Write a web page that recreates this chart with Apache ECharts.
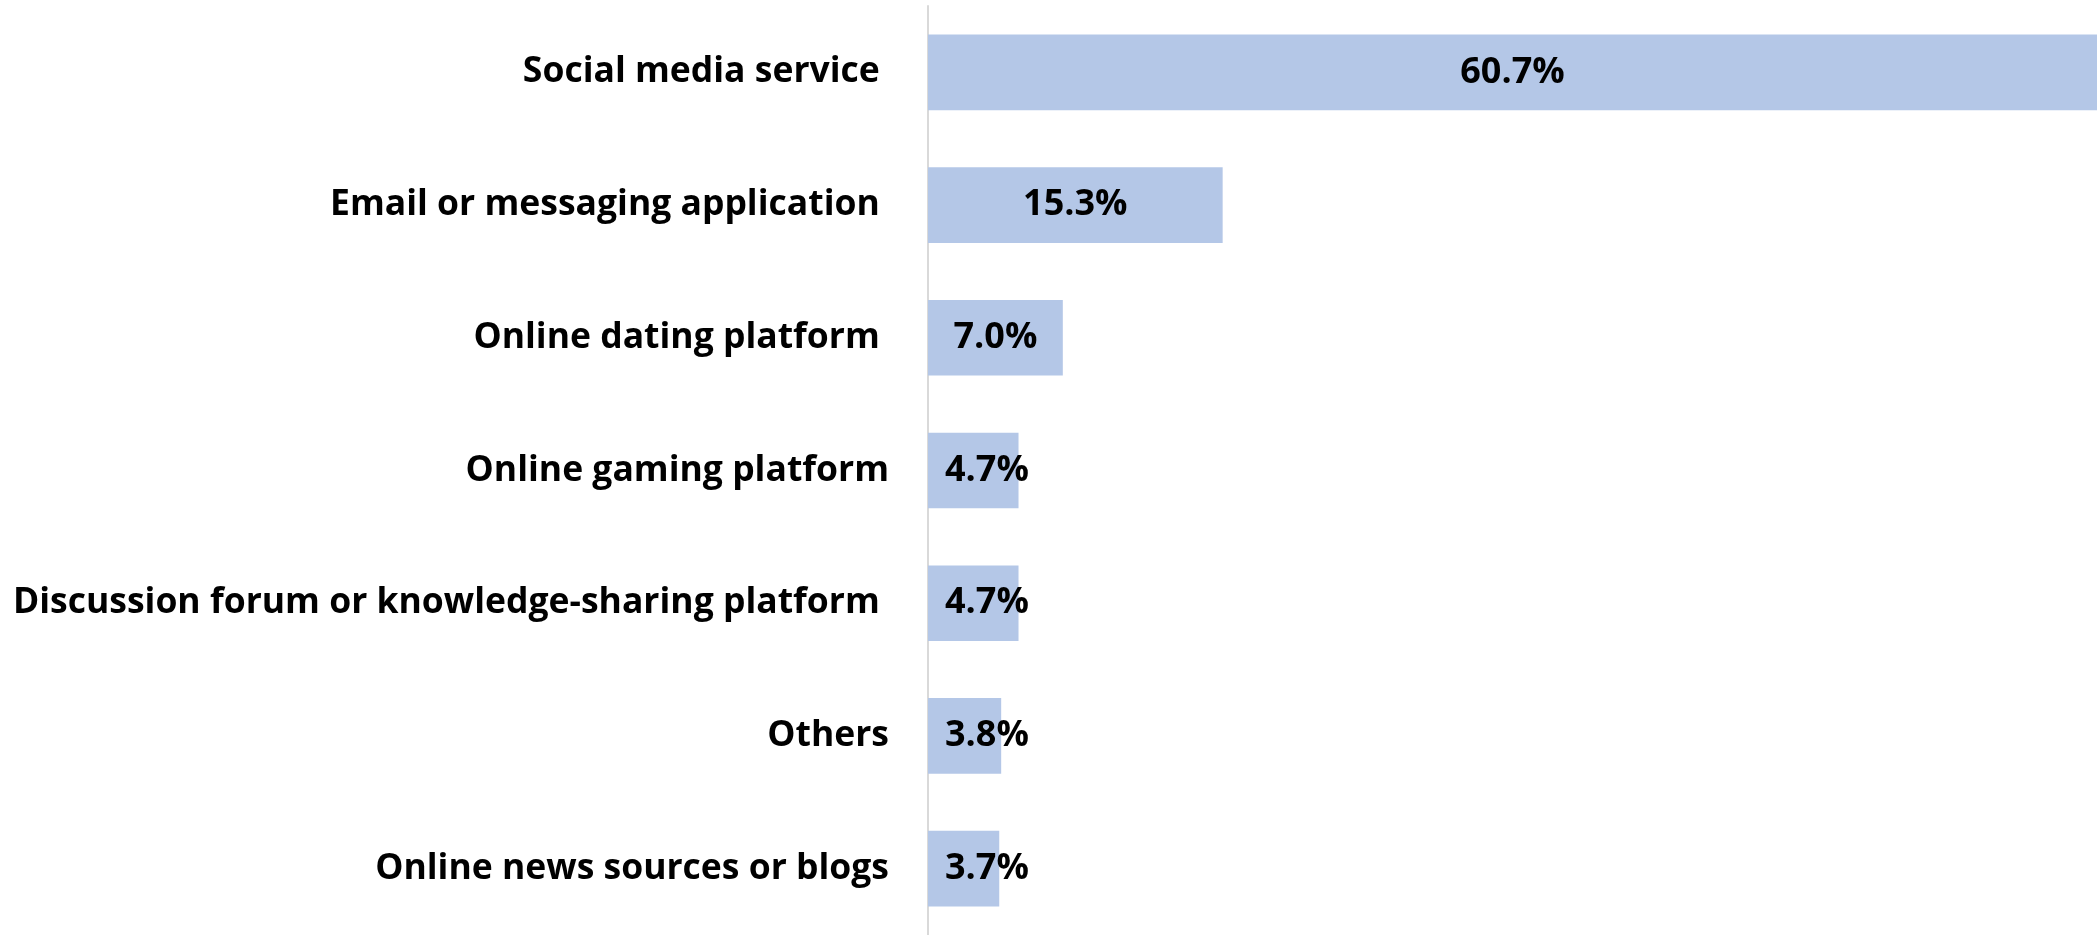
<!DOCTYPE html>
<html>
<head>
<meta charset="utf-8">
<script src="https://cdn.jsdelivr.net/npm/echarts@6/dist/echarts.min.js"></script>
<style>
  html, body { margin: 0; padding: 0; background: #ffffff; }
  #chart { width: 2097px; height: 935px; }
</style>
</head>
<body>
<div id="chart"></div>
<script>
// Platform categories (top to bottom); some source labels carry a trailing space
const categories = [
  'Social media service ',
  'Email or messaging application ',
  'Online dating platform ',
  'Online gaming platform',
  'Discussion forum or knowledge-sharing platform ',
  'Others',
  'Online news sources or blogs'
];

// Share of respondents, percent
const shares = [60.7, 15.3, 7.0, 4.7, 4.7, 3.8, 3.7];

const FONT = '"Open Sans", "Noto Sans", sans-serif';
const PX_PER_UNIT = 19.31;
const xMax = Math.max(...shares);

const chart = echarts.init(document.getElementById('chart'), null, { renderer: 'canvas' });

const data = shares.map(v => ({
  value: v,
  // labels that would not fit inside the bar sit at its base instead
  label: v < 6 ? { position: 'insideLeft', distance: 17 } : { position: 'inside' }
}));

chart.setOption({
  animation: false,
  backgroundColor: '#ffffff',
  grid: {
    left: 928,
    top: 6,
    width: xMax * PX_PER_UNIT,
    height: 933,
    containLabel: false
  },
  xAxis: {
    type: 'value',
    min: 0,
    max: xMax,
    show: false,
    splitLine: { show: false }
  },
  yAxis: {
    type: 'category',
    data: categories,
    inverse: true,
    axisLine: { show: true, lineStyle: { color: '#d9d9d9', width: 2 } },
    axisTick: { show: false },
    axisLabel: {
      margin: 39,
      color: '#000000',
      fontFamily: FONT,
      fontWeight: 'bold',
      fontSize: 35.5,
      padding: [8, 0, 0, 0]
    }
  },
  series: [{
    type: 'bar',
    data: data,
    barCategoryGap: '43%',
    itemStyle: { color: '#b4c7e7' },
    label: {
      show: true,
      formatter: p => p.value.toFixed(1) + '%',
      color: '#000000',
      fontFamily: FONT,
      fontWeight: 'bold',
      fontSize: 36,
      padding: [8, 0, 0, 0]
    }
  }]
});
</script>
</body>
</html>
